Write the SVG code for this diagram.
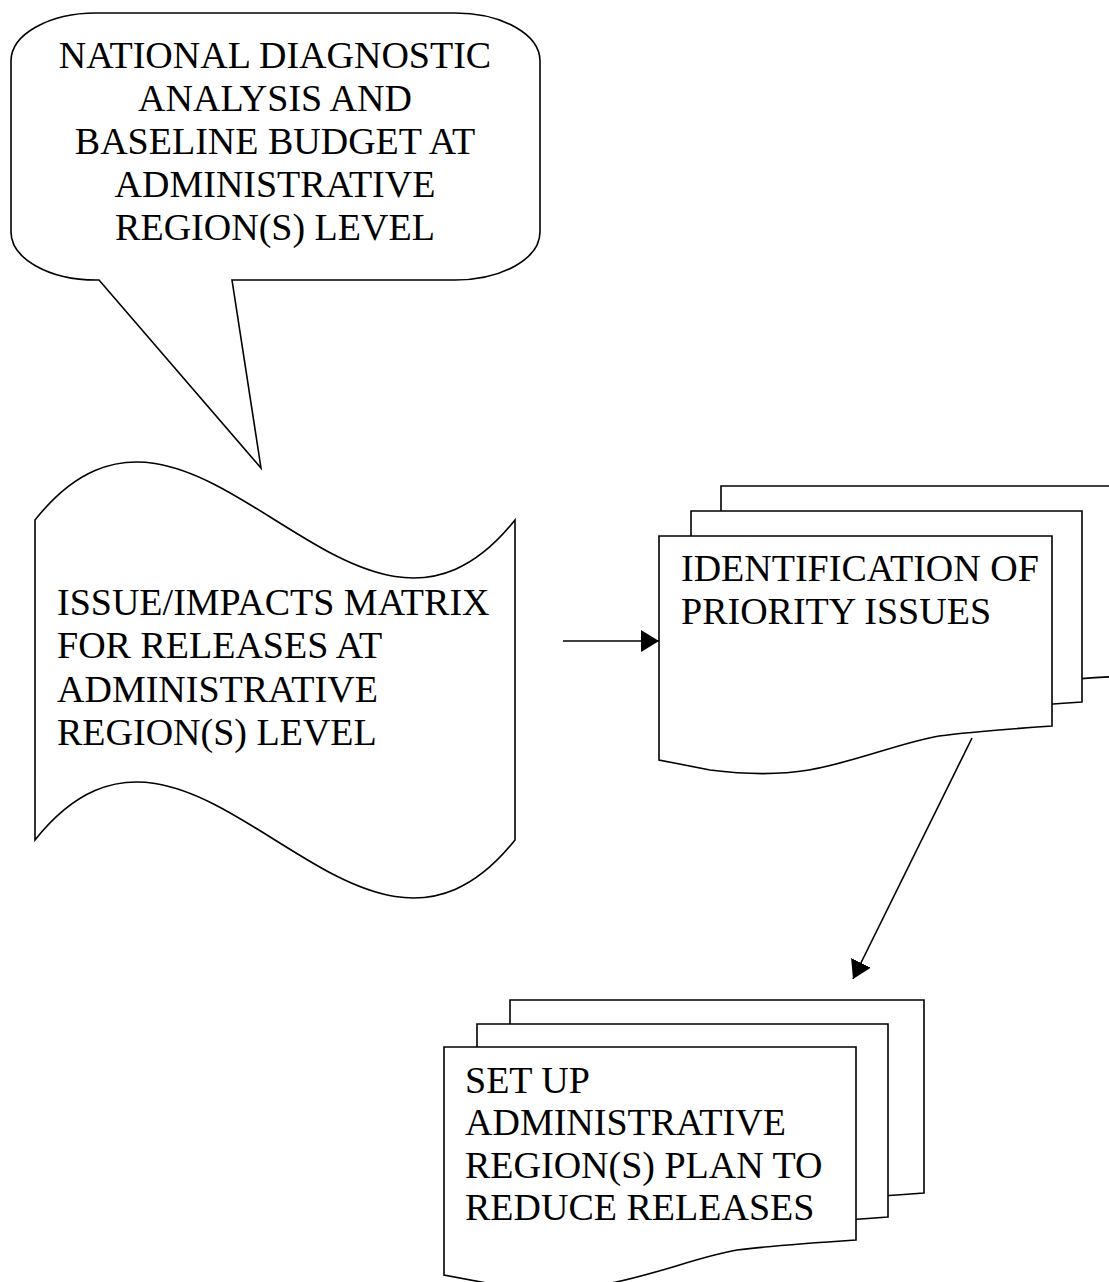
<svg xmlns="http://www.w3.org/2000/svg" width="1109" height="1282" viewBox="0 0 1109 1282">
<style>
.shape{fill:#fff;stroke:#000;stroke-width:1.6;stroke-linejoin:miter}
.conn{fill:none;stroke:#000;stroke-width:1.6}
text{font-family:"Liberation Serif","Times New Roman",serif;font-size:38px;fill:#000}
.c{text-anchor:middle}
</style>
<defs>
<marker id="arrow" viewBox="0 0 18 22" refX="18" refY="11" markerWidth="18" markerHeight="22" markerUnits="userSpaceOnUse" orient="auto">
<path d="M0,0 L18,11 L0,22 Z" fill="#000"/>
</marker>
</defs>
<rect width="1109" height="1282" fill="#fff"/>

<g id="callout">
<path class="shape" d="M96,13 H455 A85,48 0 0 1 540,61 V232 A85,48 0 0 1 455,280 H232 L261,468 L99,280 H96 A85,48 0 0 1 11,232 V61 A85,48 0 0 1 96,13 Z"/>
<text class="c" x="275" y="68">NATIONAL DIAGNOSTIC</text>
<text class="c" x="275" y="111">ANALYSIS AND</text>
<text class="c" x="275" y="154">BASELINE BUDGET AT</text>
<text class="c" x="275" y="197">ADMINISTRATIVE</text>
<text class="c" x="275" y="240">REGION(S) LEVEL</text>
</g>

<g id="matrix">
<path class="shape" d="M35,520 C195,319 355,721 515,520 V840 C355,1041 195,639 35,840 Z"/>
<text x="57" y="615">ISSUE/IMPACTS MATRIX</text>
<text x="57" y="658">FOR RELEASES AT</text>
<text x="57" y="702">ADMINISTRATIVE</text>
<text x="57" y="745">REGION(S) LEVEL</text>
</g>

<g id="priority">
<path class="shape" d="M721,486 H1125 V676 C1071,679 1031,682 1001,686 C961,693 921,711 871,720 C841,725 811,725 772,720 L721,710 Z"/>
<path class="shape" d="M691,511 H1082 V702 C1039,705 999,708 969,712 C929,719 889,737 839,746 C809,751 779,751 740,746 L691,736 Z"/>
<path class="shape" d="M659,536 H1052 V726 C1009,729 969,732 939,736 C899,743 859,761 809,770 C779,775 749,775 710,770 L659,760 Z"/>
<text x="681" y="581">IDENTIFICATION OF</text>
<text x="681" y="624">PRIORITY ISSUES</text>
</g>

<g id="plan">
<path class="shape" d="M510,1000 H924 V1193 C879,1196 837,1199 806,1203 C765,1210 723,1229 670,1238 C639,1243 607,1243 566,1238 L510,1228 Z"/>
<path class="shape" d="M477,1024 H888 V1217 C843,1220 801,1223 770,1227 C729,1234 687,1253 634,1262 C603,1267 571,1267 530,1262 L477,1252 Z"/>
<path class="shape" d="M444,1047 H856 V1240 C811,1243 769,1246 737,1250 C696,1257 654,1276 601,1285 C570,1290 538,1290 497,1285 L444,1275 Z"/>
<text x="465" y="1093">SET UP</text>
<text x="465" y="1135">ADMINISTRATIVE</text>
<text x="465" y="1178">REGION(S) PLAN TO</text>
<text x="465" y="1220">REDUCE RELEASES</text>
</g>

<g id="connectors">
<line class="conn" x1="563" y1="641" x2="659" y2="641" marker-end="url(#arrow)"/>
<line class="conn" x1="972" y1="738" x2="853" y2="979" marker-end="url(#arrow)"/>
</g>
</svg>
